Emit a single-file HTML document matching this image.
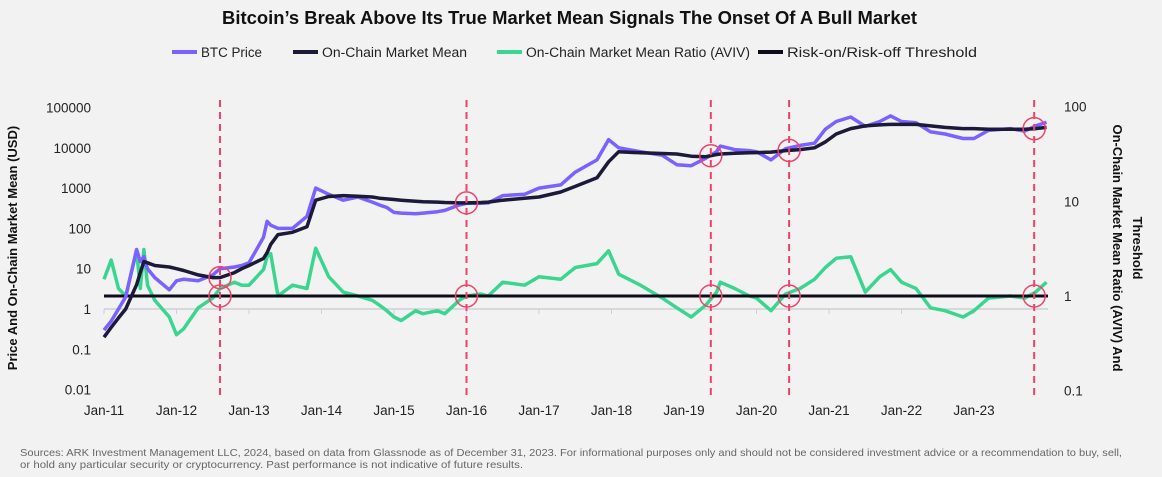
<!DOCTYPE html>
<html><head><meta charset="utf-8">
<style>
body{margin:0;background:#f2f2f2;font-family:"Liberation Sans",sans-serif;}
#wrap{position:relative;width:1162px;height:477px;overflow:hidden;background:#f2f2f2;}
</style></head>
<body>
<div id="wrap">
<svg id="chart" width="1162" height="477" xmlns="http://www.w3.org/2000/svg">
<text x="222" y="24" textLength="695" lengthAdjust="spacingAndGlyphs" font-size="18" font-weight="bold" fill="#111">Bitcoin’s Break Above Its True Market Mean Signals The Onset Of A Bull Market</text>
<g id="legend" font-size="13.5" fill="#222">
<g><line x1="172" y1="52" x2="197" y2="52" stroke="#7b61ff" stroke-width="4"/><text x="201" y="57" textLength="61" lengthAdjust="spacingAndGlyphs">BTC Price</text></g>
<g><line x1="293" y1="52" x2="318" y2="52" stroke="#1b1a38" stroke-width="4"/><text x="322" y="57" textLength="145" lengthAdjust="spacingAndGlyphs">On-Chain Market Mean</text></g>
<g><line x1="497" y1="52" x2="522" y2="52" stroke="#3ad690" stroke-width="4"/><text x="526" y="57" textLength="224" lengthAdjust="spacingAndGlyphs">On-Chain Market Mean Ratio (AVIV)</text></g>
<g><line x1="758" y1="52" x2="783" y2="52" stroke="#0d0d1a" stroke-width="4"/><text x="787" y="57" textLength="190" lengthAdjust="spacingAndGlyphs">Risk-on/Risk-off Threshold</text></g>
</g>
<g id="axes" font-size="13.5" fill="#222"></g>
<g id="series"></g>
<text transform="translate(17,248) rotate(-90)" text-anchor="middle" font-size="13" font-weight="bold" fill="#111">Price And On-Chain Market Mean (USD)</text>
<text transform="translate(1113,248) rotate(90)" text-anchor="middle" font-size="13" font-weight="bold" fill="#111"><tspan x="0" dy="0">On-Chain Market Mean Ratio (AVIV) And</tspan><tspan x="0" dy="-20">Threshold</tspan></text>
<text x="20" y="456" font-size="10.5" fill="#666" textLength="1102" lengthAdjust="spacingAndGlyphs">Sources: ARK Investment Management LLC, 2024, based on data from Glassnode as of December 31, 2023. For informational purposes only and should not be considered investment advice or a recommendation to buy, sell,</text>
<text x="20" y="468" font-size="10.5" fill="#666" textLength="503" lengthAdjust="spacingAndGlyphs">or hold any particular security or cryptocurrency. Past performance is not indicative of future results.</text>
</svg>
</div>
<script>
const dates=[2011.0,2011.1,2011.2,2011.3,2011.45,2011.5,2011.55,2011.6,2011.7,2011.9,2012.0,2012.1,2012.3,2012.5,2012.6,2012.8,2012.9,2013.0,2013.2,2013.25,2013.3,2013.4,2013.6,2013.8,2013.92,2014.1,2014.3,2014.5,2014.7,2014.8,2014.9,2015.0,2015.1,2015.3,2015.4,2015.6,2015.7,2015.9,2016.0,2016.2,2016.3,2016.5,2016.8,2017.0,2017.3,2017.5,2017.8,2017.96,2018.1,2018.4,2018.7,2018.9,2019.1,2019.3,2019.45,2019.5,2019.7,2019.9,2020.0,2020.2,2020.4,2020.6,2020.8,2020.95,2021.1,2021.3,2021.5,2021.7,2021.85,2022.0,2022.2,2022.4,2022.6,2022.85,2023.0,2023.2,2023.5,2023.7,2023.85,2024.0];
const btcPrice=[0.3,0.5,1,2,30,15,20,10,6,3,5,5.5,5,7,10,11,12,14,60,150,120,100,100,200,1000,700,500,600,450,380,330,250,240,230,240,260,280,380,420,420,430,650,700,1000,1200,2500,5000,16000,10000,8000,6500,3800,3600,5500,8000,11000,9000,8500,8000,5000,9500,11500,13000,29000,45000,58000,34000,45000,62000,45000,42000,25000,22000,17000,17000,27000,30000,26000,35000,43000];
const marketMean=[0.2,0.35,0.6,1,4,8,15,14,12,11,10,9,7,6,6,8,10,12,18,25,40,70,80,110,500,620,650,630,600,560,540,520,500,470,460,450,440,430,430,440,450,500,560,600,800,1100,1800,4500,8000,7500,7200,7000,6200,6000,6800,7000,7300,7500,7600,7800,8500,9000,10000,14000,22000,30000,35000,37000,38000,38000,38000,35000,32000,30000,30000,29000,29000,29000,30000,32000];
const aviv=[1.5,2.4,1.2,1.0,3.0,1.2,3.1,1.3,0.9,0.6,0.39,0.45,0.75,0.95,1.2,1.4,1.3,1.3,1.9,2.6,2.8,1.0,1.3,1.2,3.2,1.6,1.1,1.0,0.9,0.8,0.7,0.6,0.55,0.7,0.65,0.7,0.65,0.9,1.0,1.05,1.0,1.4,1.3,1.6,1.5,2.0,2.2,3.0,1.7,1.3,0.95,0.75,0.6,0.8,1.1,1.4,1.2,1.0,0.95,0.7,1.05,1.2,1.5,2.0,2.5,2.6,1.1,1.6,1.9,1.4,1.2,0.75,0.7,0.6,0.7,0.95,1.0,0.95,1.1,1.4];
const xTickLabels=["Jan-11","Jan-12","Jan-13","Jan-14","Jan-15","Jan-16","Jan-17","Jan-18","Jan-19","Jan-20","Jan-21","Jan-22","Jan-23"];
const xTickYears=[2011,2012,2013,2014,2015,2016,2017,2018,2019,2020,2021,2022,2023];
const leftTicks=[100000,10000,1000,100,10,1,0.1,0.01];
const leftTickLabels=["100000","10000","1000","100","10","1","0.1","0.01"];
const rightTicks=[100,10,1,0.1];
const rightTickLabels=["100","10","1","0.1"];
const threshold=[1];
const signalDates=[2012.6,2016.0,2019.37,2020.45,2023.83];

const NS="http://www.w3.org/2000/svg";
const X0=104,YEARPX=72.5;
function xs(t){return X0+(t-2011)*YEARPX;}
function yl(v){return 309-Math.log10(v)*40.3;}
function yr(v){return 296-Math.log10(v)*94.7;}
function mk(tag,attrs,parent){const e=document.createElementNS(NS,tag);for(const k in attrs)e.setAttribute(k,attrs[k]);parent.appendChild(e);return e;}
const axes=document.getElementById('axes'),ser=document.getElementById('series');

let bl=mk('line',{x1:104,x2:1048,y1:309,y2:309,stroke:'#cfcfd4','stroke-width':1.5},axes);


xTickYears.forEach((y,i)=>{
  let t=mk('line',{x1:xs(y),x2:xs(y),y1:309,y2:314,stroke:'#cfcfd4','stroke-width':1},axes);
  
  
  let l=mk('text',{x:xs(y),y:415,'text-anchor':'middle'},axes);l.textContent=xTickLabels[i];
  
  
});
leftTicks.forEach((v,i)=>{
  let l=mk('text',{x:91,y:yl(v)+5,'text-anchor':'end'},axes);l.textContent=leftTickLabels[i];
  
  
});
rightTicks.forEach((v,i)=>{
  let l=mk('text',{x:1064,y:yr(v)+5,'text-anchor':'start'},axes);l.textContent=rightTickLabels[i];
  
  
});
function path(arr,yf){return arr.map((v,i)=>(i?'L':'M')+xs(dates[i]).toFixed(1)+','+yf(v).toFixed(1)).join('');}
let pa=mk('path',{d:path(aviv,yr),fill:'none',stroke:'#3ad690','stroke-width':3.5,'stroke-linejoin':'round'},ser);


let th=mk('line',{x1:104,x2:1048,y1:yr(threshold[0]),y2:yr(threshold[0]),stroke:'#0d0d1a','stroke-width':3},ser);


let pp=mk('path',{d:path(btcPrice,yl),fill:'none',stroke:'#7b61ff','stroke-width':3.5,'stroke-linejoin':'round'},ser);


let pm=mk('path',{d:path(marketMean,yl),fill:'none',stroke:'#1b1a38','stroke-width':3.5,'stroke-linejoin':'round'},ser);


function interp(arr,t){for(let i=1;i<dates.length;i++){if(dates[i]>=t){const f=(t-dates[i-1])/(dates[i]-dates[i-1]);return Math.pow(10,Math.log10(arr[i-1])+f*(Math.log10(arr[i])-Math.log10(arr[i-1])));}}return arr[arr.length-1];}
signalDates.forEach(d=>{
  let dl=mk('line',{x1:xs(d),x2:xs(d),y1:100,y2:400,stroke:'#f0436a','stroke-width':2,'stroke-dasharray':'7,5'},ser);
  
  
  let c1=mk('circle',{cx:xs(d),cy:yl(interp(marketMean,d)),r:11,fill:'none',stroke:'#f0436a','stroke-width':1.5},ser);
  
  
  let c2=mk('circle',{cx:xs(d),cy:yr(threshold[0]),r:11,fill:'none',stroke:'#f0436a','stroke-width':1.5},ser);
  
  
});
</script>
</body></html>
